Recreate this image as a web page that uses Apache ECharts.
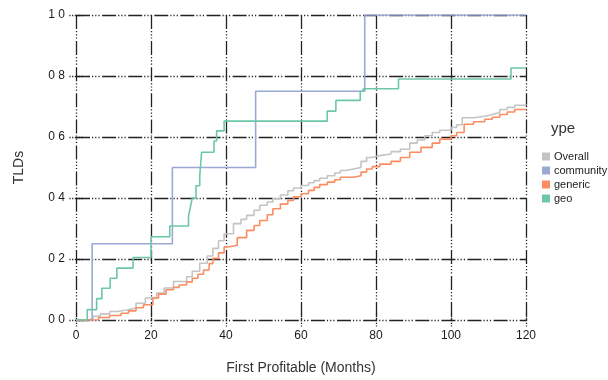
<!DOCTYPE html>
<html>
<head>
<meta charset="utf-8">
<script src="https://cdn.jsdelivr.net/npm/echarts@6/dist/echarts.min.js"></script>
<style>
  html, body { margin: 0; padding: 0; background: #ffffff; }
  #chart { width: 608px; height: 380px; }
</style>
</head>
<body>
<div id="chart"></div>
<script>
  // step points: months -> share of TLDs
  const overallX = [0, 3, 4.5, 6.5, 9, 11, 13.5, 16, 18.5, 21.5, 23.5, 26, 29.5, 31, 33, 35, 36.5, 38, 39.5, 42, 44, 45.5, 47.5, 49, 51, 52.5, 54.5, 56.5, 58, 60, 62, 63.5, 65, 67, 69, 70.5, 72, 74, 76, 77.5, 79, 81, 84, 86.5, 89, 91, 93, 95, 97, 100, 101.5, 103, 106, 109, 111, 113, 115, 117, 120];
  const overallY = [0, 0.003, 0.012, 0.02, 0.028, 0.033, 0.039, 0.055, 0.072, 0.088, 0.105, 0.126, 0.142, 0.16, 0.186, 0.21, 0.235, 0.26, 0.283, 0.316, 0.33, 0.343, 0.36, 0.376, 0.387, 0.397, 0.41, 0.424, 0.433, 0.441, 0.45, 0.457, 0.465, 0.473, 0.482, 0.49, 0.495, 0.5, 0.52, 0.533, 0.539, 0.544, 0.552, 0.56, 0.58, 0.59, 0.604, 0.615, 0.622, 0.631, 0.64, 0.663, 0.668, 0.674, 0.68, 0.69, 0.697, 0.704, 0.707];

  const genericX = [0, 3.5, 6, 9, 12, 14, 16, 18, 20.5, 22, 24, 26, 27.5, 29.5, 31, 32.5, 34, 35.5, 36.5, 38, 39.5, 41, 43, 45.5, 47.5, 49, 51, 52.5, 54.5, 56.5, 58, 60, 62, 63.5, 65, 67, 69, 70.5, 74, 76, 77.5, 79, 81, 84, 86.5, 89, 92, 95, 97, 100, 101.5, 103.5, 106, 109, 111, 113, 115, 117, 120];
  const genericY = [0, 0.001, 0.008, 0.015, 0.022, 0.03, 0.04, 0.05, 0.072, 0.085, 0.099, 0.107, 0.115, 0.125, 0.137, 0.15, 0.164, 0.185, 0.202, 0.22, 0.24, 0.245, 0.27, 0.294, 0.31, 0.326, 0.345, 0.365, 0.38, 0.392, 0.404, 0.414, 0.425, 0.435, 0.444, 0.452, 0.46, 0.468, 0.473, 0.485, 0.495, 0.503, 0.511, 0.52, 0.533, 0.55, 0.566, 0.58, 0.593, 0.604, 0.615, 0.642, 0.65, 0.658, 0.665, 0.674, 0.682, 0.69, 0.69];

  const geoX = [0, 3, 5.5, 6.9, 9.1, 10.9, 15.2, 20, 25, 30, 30.5, 31, 32, 33, 33.5, 36.8, 37.5, 39.5, 67, 69.3, 75.8, 76.6, 86, 116, 120];
  const geoY = [0, 0.034, 0.07, 0.104, 0.137, 0.17, 0.205, 0.273, 0.308, 0.34, 0.37, 0.4, 0.44, 0.473, 0.55, 0.587, 0.62, 0.652, 0.685, 0.72, 0.75, 0.758, 0.79, 0.826, 0.826];

  const communityX = [0, 4.3, 25.7, 47.9, 77, 120];
  const communityY = [0, 0.25, 0.5, 0.75, 1.0, 1.0];

  const seriesNames = ['Overall', 'community', 'generic', 'geo'];
  const seriesColors = ['#c4c4c4', '#9aa9d4', '#fc8d62', '#6cc7a6'];
  const yTickLabels = { '0': '0 0', '0.2': '0 2', '0.4': '0 4', '0.6': '0 6', '0.8': '0 8', '1': '1 0' };

  const pairs = (xs, ys) => xs.map((x, i) => [x, ys[i]]);
  const seriesData = [
    pairs(overallX, overallY),
    pairs(communityX, communityY),
    pairs(genericX, genericY),
    pairs(geoX, geoY)
  ];

  const gridDash = [14, 2, 1.2, 2, 1.2, 2, 1.2, 2.5];
  const tickStyle = { show: true, length: 8, lineStyle: { color: '#222', width: 1.3, type: [1.2, 1.5] } };
  const labelFont = { fontFamily: 'Liberation Sans', fontSize: 12, color: '#1a1a1a' };

  const chart = echarts.init(document.getElementById('chart'), null, { renderer: 'canvas' });

  const option = {
    animation: false,
    backgroundColor: '#ffffff',
    title: {
      text: 'ype',
      left: 546,
      top: 116,
      textStyle: { fontFamily: 'Liberation Sans', fontSize: 15, fontWeight: 'normal', color: '#333' }
    },
    legend: {
      orient: 'vertical',
      left: 537,
      top: 146,
      icon: 'rect',
      itemWidth: 8,
      itemHeight: 8,
      itemGap: 3,
      data: seriesNames,
      textStyle: { fontFamily: 'Liberation Sans', fontSize: 11, color: '#222', padding: [0, 0, 0, -1] }
    },
    grid: { left: 76, right: 82, top: 15, bottom: 58 },
    xAxis: [
      {
        type: 'value',
        min: 0,
        max: 120,
        interval: 20,
        name: 'First Profitable (Months)',
        nameLocation: 'middle',
        nameGap: 41,
        nameTextStyle: { fontFamily: 'Liberation Sans', fontSize: 14, color: '#333' },
        axisLine: { show: false },
        axisTick: tickStyle,
        axisLabel: Object.assign({ margin: 10 }, labelFont),
        splitLine: { show: true, lineStyle: { color: '#222', width: 1.3, type: gridDash } }
      },
      {
        type: 'value',
        position: 'top',
        min: 0,
        max: 120,
        interval: 20,
        axisLine: { show: false },
        axisTick: tickStyle,
        axisLabel: { show: false },
        splitLine: { show: false }
      }
    ],
    yAxis: [
      {
        type: 'value',
        min: 0,
        max: 1,
        interval: 0.2,
        name: 'TLDs',
        nameLocation: 'middle',
        nameGap: 50,
        nameTextStyle: { fontFamily: 'Liberation Sans', fontSize: 14, color: '#333' },
        axisLine: { show: false },
        axisTick: tickStyle,
        axisLabel: Object.assign({
          margin: 11,
          formatter: v => yTickLabels[String(+v.toFixed(1))]
        }, labelFont),
        splitLine: { show: true, lineStyle: { color: '#222', width: 1.3, type: gridDash } }
      },
      {
        type: 'value',
        position: 'right',
        min: 0,
        max: 1,
        interval: 0.2,
        axisLine: { show: false },
        axisTick: tickStyle,
        axisLabel: { show: false },
        splitLine: { show: false }
      }
    ],
    series: seriesNames.map((name, i) => ({
      name: name,
      type: 'line',
      step: 'end',
      data: seriesData[i],
      showSymbol: false,
      symbol: 'none',
      color: seriesColors[i],
      lineStyle: { width: 1.6, color: seriesColors[i] },
      z: 3 + i
    }))
  };

  chart.setOption(option);
</script>
</body>
</html>
